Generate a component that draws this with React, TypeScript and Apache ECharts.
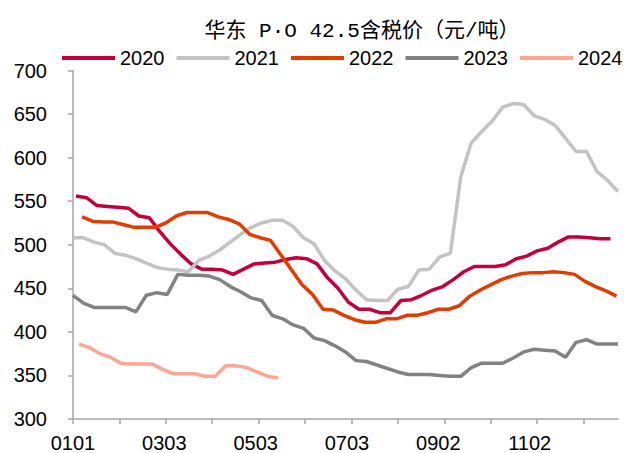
import React, { useEffect, useRef } from "react";
import * as echarts from "echarts";

// Daily categories of a non-leap year, "MMDD"
const days: string[] = [];
{
  const d = new Date(2023, 0, 1);
  while (d.getFullYear() === 2023) {
    const mm = String(d.getMonth() + 1).padStart(2, "0");
    const dd = String(d.getDate()).padStart(2, "0");
    days.push(mm + dd);
    d.setDate(d.getDate() + 1);
  }
}

const seriesNames = ["2020", "2021", "2022", "2023", "2024"];
const seriesColors = ["#C4003A", "#C3C3C3", "#E23D00", "#828282", "#FDA693"];

// first weekly date of each year, then one value per week
const start2020 = "0103";
const start2021 = "0101";
const start2022 = "0107";
const start2023 = "0101";
const start2024 = "0105";

const y2020 = [556, 554, 545, 544, 543, 542, 533, 531, 515, 501, 489, 478, 472, 472, 471, 466, 472, 478, 479, 480, 483, 485, 484, 478, 462, 450, 434, 426, 426, 422, 422, 436, 437, 442, 448, 452, 460, 469, 475, 475, 475, 477, 484, 487, 493, 496, 503, 509, 509, 508, 507, 507];
const y2021 = [508, 508, 503, 500, 490, 488, 484, 479, 474, 472, 471, 469, 482, 487, 494, 503, 512, 520, 525, 528, 528, 521, 508, 501, 482, 470, 461, 448, 437, 436, 436, 449, 452, 471, 472, 486, 490, 578, 617, 630, 642, 658, 662, 661, 648, 644, 637, 622, 607, 607, 584, 574, 561];
const y2022 = [532, 527, 526, 526, 523, 520, 520, 520, 525, 533, 537, 537, 537, 532, 529, 524, 512, 508, 505, 488, 471, 454, 443, 426, 425, 419, 414, 411, 411, 415, 415, 419, 419, 422, 426, 426, 430, 441, 448, 454, 460, 464, 467, 468, 468, 469, 468, 466, 458, 452, 447, 441];
const y2023 = [442, 433, 428, 428, 428, 428, 423, 442, 445, 443, 466, 465, 465, 464, 460, 452, 446, 439, 436, 419, 415, 408, 404, 393, 390, 384, 377, 367, 366, 362, 358, 354, 351, 351, 351, 350, 349, 349, 359, 364, 364, 364, 370, 377, 380, 379, 378, 371, 388, 391, 386, 386, 386];
const y2024 = [386, 382, 375, 371, 364, 363, 363, 363, 357, 352, 352, 352, 349, 349, 361, 361, 359, 354, 349, 347];

const starts = [start2020, start2021, start2022, start2023, start2024];
const values = [y2020, y2021, y2022, y2023, y2024];

const titleText = "华东 P·O 42.5含税价（元/吨）";

export default function App() {
  const ref = useRef<HTMLDivElement>(null);
  useEffect(() => {
    if (!ref.current) return;
    const chart = echarts.init(ref.current, undefined, { renderer: "svg" });
    const series = seriesNames.map((name, i) => {
      const s0 = days.indexOf(starts[i]);
      return {
        name,
        type: "line",
        symbol: "none",
        data: values[i].map((v, k) => [s0 + 7 * k, v]),
        lineStyle: { width: 3.5, color: seriesColors[i] },
        itemStyle: { color: seriesColors[i] },
        emphasis: { disabled: true },
      };
    });
    chart.setOption({
      animation: false,
      graphic: [
        {
          type: "text",
          x: 362,
          y: 31,
          style: {
            text: titleText,
            fontSize: 21,
            fontFamily: "'Liberation Mono', 'Noto Sans CJK SC'",
            fill: "#000",
            textAlign: "center",
            textVerticalAlign: "middle",
          },
        },
      ],
      legend: {
        data: seriesNames,
        left: 62,
        top: 48,
        width: 620,
        icon: "rect",
        itemWidth: 53,
        itemHeight: 4,
        itemGap: 12,
        padding: 0,
        textStyle: { fontSize: 20, fontFamily: "'Liberation Sans', Arial", color: "#000" },
      },
      grid: { left: 73, right: 13, top: 70.5, bottom: 33, containLabel: false },
      xAxis: {
        type: "category",
        data: days,
        boundaryGap: false,
        axisLine: { lineStyle: { color: "#A6A6A6", width: 1.5 } },
        axisTick: { interval: 30, length: 5, lineStyle: { color: "#A6A6A6", width: 1.5 } },
        axisLabel: {
          interval: 60,
          margin: 14,
          fontSize: 20,
          fontFamily: "'Liberation Sans', Arial",
          color: "#000",
        },
        splitLine: { show: false },
      },
      yAxis: {
        type: "value",
        min: 300,
        max: 700,
        interval: 50,
        axisLine: { show: true, lineStyle: { color: "#A6A6A6", width: 1.5 } },
        axisTick: { show: true, length: 5, lineStyle: { color: "#A6A6A6", width: 1.5 } },
        axisLabel: {
          margin: 26,
          fontSize: 20,
          fontFamily: "'Liberation Sans', Arial",
          color: "#000",
        },
        splitLine: { show: false },
      },
      series,
    });
    return () => chart.dispose();
  }, []);
  return (
    <div
      ref={ref}
      style={{ position: "fixed", left: 0, top: 0, width: 631, height: 453, background: "#fff" }}
    />
  );
}
